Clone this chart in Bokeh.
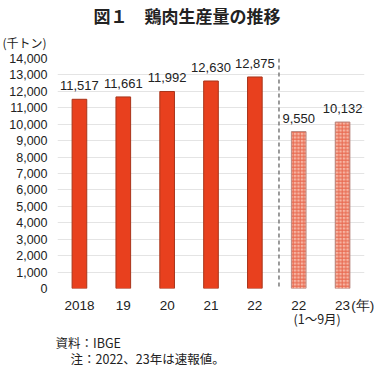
from bokeh.plotting import figure
from bokeh.models import (ColumnDataSource, Range1d, FixedTicker, NumeralTickFormatter,
                          LabelSet, Span, Title, LinearAxis)
from bokeh.core.properties import value
from bokeh.embed import file_html
from bokeh.resources import INLINE

# ---- data ----
categories = ["2018", "19", "20", "21", "22", "22", "23"]
annual_idx = [0, 1, 2, 3, 4]
annual_values = [11517, 11661, 11992, 12630, 12875]
prelim_idx = [5, 6]
prelim_values = [9550, 10132]
y_ticks = list(range(0, 14001, 1000))
unit_x_label = "(年)"
prelim_period = "(1〜9月)"

NUM_FONT = "Liberation Sans"
JP_FONT = "Noto Sans CJK JP"
TXT = "#222222"

p = figure(width=380, height=368, output_backend="svg", toolbar_location=None,
           x_range=Range1d(-0.5, 6.5), y_range=Range1d(0, 14000),
           min_border_left=57, min_border_right=16, min_border_top=58, min_border_bottom=80)
p.outline_line_color = None
p.background_fill_color = "white"
p.border_fill_color = "white"

src_a = ColumnDataSource(dict(x=annual_idx, y=annual_values,
                              t=[f"{v:,}" for v in annual_values]))
src_p = ColumnDataSource(dict(x=prelim_idx, y=prelim_values,
                              t=[f"{v:,}" for v in prelim_values]))

p.vbar(x="x", top="y", width=0.334, source=src_a,
       fill_color="#E8401E", line_color="#A8341A", line_width=1)
p.vbar(x="x", top="y", width=0.334, source=src_p,
       fill_color="#F6B4A2", line_color="#B88880", line_width=1,
       hatch_pattern="+", hatch_color="#E8684E", hatch_scale=3.5, hatch_weight=1)

for s in (src_a, src_p):
    p.add_layout(LabelSet(x="x", y="y", text="t", source=s, text_align="center",
                          text_baseline="alphabetic", y_offset=9,
                          text_font=value(NUM_FONT), text_font_size=value("13px"),
                          text_color=TXT))

p.add_layout(Span(location=4.55, dimension="height", line_color="#7a7a7a",
                  line_dash="4 3", line_width=1.5))

# x axis: category labels + unit "(年)" at the right end
YEAR_POS = 6.46
xticks = list(range(len(categories))) + [YEAR_POS]
p.xaxis.ticker = FixedTicker(ticks=xticks)
ov = {i: c for i, c in enumerate(categories)}
ov[YEAR_POS] = unit_x_label
p.xaxis.major_label_overrides = ov
ax = p.xaxis[0]
ax.axis_line_color = None
ax.major_tick_line_color = None
ax.minor_tick_line_color = None
ax.major_tick_out = 0
ax.major_tick_in = 0
ax.major_label_standoff = 9
ax.major_label_text_font = NUM_FONT
ax.major_label_text_font_size = "13.5px"
ax.major_label_text_color = TXT
p.xgrid.grid_line_color = None

# second row below the x labels: period of the preliminary 2022 bar
PERIOD_POS = 5.42
ax2 = LinearAxis(ticker=FixedTicker(ticks=[PERIOD_POS]),
                 major_label_overrides={PERIOD_POS: prelim_period},
                 axis_line_color=None, major_tick_line_color=None,
                 minor_tick_line_color=None, major_tick_out=0, major_tick_in=0,
                 major_label_standoff=-7, major_label_text_font=JP_FONT,
                 major_label_text_font_size="12.5px", major_label_text_color=TXT)
p.add_layout(ax2, "below")

p.yaxis.ticker = FixedTicker(ticks=y_ticks)
p.yaxis.formatter = NumeralTickFormatter(format="0,0")
p.yaxis.axis_line_color = None
p.yaxis.major_tick_line_color = None
p.yaxis.minor_tick_line_color = None
p.yaxis.major_tick_out = 0
p.yaxis.major_tick_in = 0
p.yaxis.major_label_standoff = 10
p.yaxis.major_label_text_font = NUM_FONT
p.yaxis.major_label_text_font_size = "12.5px"
p.yaxis.major_label_text_color = TXT
p.ygrid.grid_line_color = "#e4e4e4"
p.ygrid.grid_line_width = 1

# titles above (first = closest to frame)
t_unit = Title(text="(千トン)", align="left", offset=-55, standoff=11, vertical_align="top",
               text_font=JP_FONT, text_font_size="12px", text_font_style="normal",
               text_color=TXT)
t_main = Title(text="図１　鶏肉生産量の推移", align="left", offset=36, standoff=1,
               text_font=JP_FONT, text_font_size="17px", text_font_style="bold",
               text_color=TXT)
p.add_layout(t_unit, "above")
p.add_layout(t_main, "above")

# notes below
t_src = Title(text="資料：IBGE", align="left", offset=-2, standoff=0,
              text_font=JP_FONT, text_font_size="12.5px", text_font_style="normal",
              text_color=TXT)
t_note = Title(text="注：2022、23年は速報値。", align="left", offset=13, standoff=-6,
               vertical_align="top",
               text_font=JP_FONT, text_font_size="12.5px", text_font_style="normal",
               text_color=TXT)
p.add_layout(t_src, "below")
p.add_layout(t_note, "below")

open("out.html", "w").write(file_html(p, INLINE))
